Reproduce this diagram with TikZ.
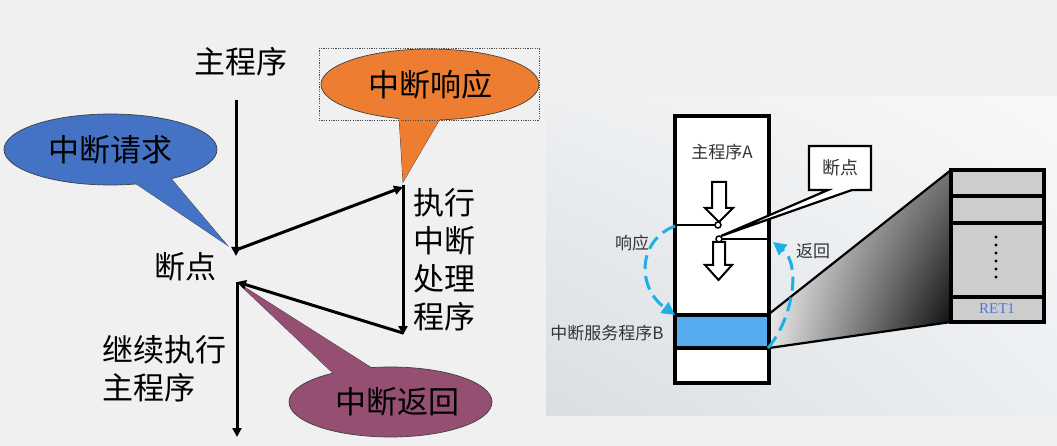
\documentclass[tikz,border=0pt]{standalone}
\usepackage{fontspec}
\setmainfont{Noto Sans CJK SC}
\newfontfamily\serifen{Liberation Serif}
\usetikzlibrary{arrows.meta,shapes.geometric,shadings}
\definecolor{bg}{HTML}{F0F0F0}
\definecolor{reqcol}{HTML}{4472C4}
\definecolor{rspcol}{HTML}{ED7D31}
\definecolor{rtncol}{HTML}{954F72}
\definecolor{arccol}{HTML}{1CB0E6}
\definecolor{isrcol}{HTML}{56AAEE}
\definecolor{stackcol}{HTML}{CDCDCD}
\definecolor{retcol}{HTML}{5076D8}
\definecolor{pnlA}{HTML}{EDEFF1}
\definecolor{pnlB}{HTML}{F7F8F9}
\definecolor{pnlC}{HTML}{DADEE2}
\definecolor{pnlD}{HTML}{ECEFF2}
\begin{document}
\begin{tikzpicture}[x=1pt,y=-1pt,
  big/.style={font=\fontsize{31}{38}\selectfont, inner sep=0pt},
  small/.style={font=\fontsize{17}{20}\selectfont, inner sep=0pt, text=black!80},
  bubble/.style={ellipse, draw=black!75, line width=0.7pt, inner sep=0pt, font=\fontsize{31}{38}\selectfont},
  ptr/.style={draw=black!75, line width=0.7pt, line join=miter},
  flow/.style={line width=3pt, -{Triangle[length=9pt,width=9pt]}},
  dasharc/.style={draw=arccol, line width=3pt, dash pattern=on 14pt off 7pt, -{Triangle[length=13pt,width=13pt]}},
  thick3/.style={line width=3.2pt}
]
\fill[bg] (0,0) rectangle (1057,446);
\useasboundingbox (0,0) rectangle (1057,446);

% ---------------- left panel: callouts ----------------
% 中断请求
\fill[reqcol, ptr] (132,181) -- (227,245) -- (168,175) -- cycle;
\node[bubble, fill=reqcol, minimum width=213pt, minimum height=71pt] (req) at (110.5,149.5) {中断请求};
\fill[reqcol] (132,181) -- (227,245) -- (168,175) -- cycle;

% 中断响应
\fill[rspcol, ptr] (399,116) -- (403,182) -- (441,117) -- cycle;
\node[bubble, fill=rspcol, minimum width=218pt, minimum height=71pt] (rsp) at (430,84.5) {中断响应};
\fill[rspcol] (399,116) -- (403,182) -- (441,117) -- cycle;
\draw[black!70, line width=0.6pt, dash pattern=on 1.2pt off 1.2pt] (319,48) rectangle (539,120);

% 中断返回
\fill[rtncol, ptr] (335,375) -- (238,283) -- (375,370) -- cycle;
\node[bubble, fill=rtncol, minimum width=203pt, minimum height=70pt] (rtn) at (390.5,402) {};
\fill[rtncol] (335,375) -- (238,283) -- (375,370) -- cycle;
\node[big] (rtnt) at (397,402) {中断返回};

% ---------------- left panel: flow ----------------
\coordinate (top) at (236,100);
\coordinate (bpa) at (236,256);
\coordinate (bpas) at (236,250);
\coordinate (isra) at (403,187);
\coordinate (isras) at (403,185);
\coordinate (isrb) at (403,335);
\coordinate (isrbs) at (403,333);
\coordinate (bpb) at (237,282);
\coordinate (bot) at (237,437);
\draw[flow] (top) -- (bpa);
\draw[flow] (bpas) -- (isra);
\draw[flow] (isras) -- (isrb);
\draw[flow] (isrbs) -- (bpb);
\draw[flow] (bpb) -- (bot);

\node[big] (main) at (241,62) {主程序};
\node[big] (bpt) at (185,267) {断点};
\node[big, align=center] (exec) at (444,260) {执行\\中断\\处理\\程序};
\node[big, align=left, anchor=west] (cont) at (102,369) {继续执行\\主程序};

% ---------------- right panel ----------------
\shade[upper left=pnlA, upper right=pnlB, lower left=pnlC, lower right=pnlD] (546,97) rectangle (1057,415);

% gradient wedge
\shade[upper left=white, lower left=white!90!black, upper right=black!55, lower right=black]
  (769,314) -- (951,170) -- (951,322) -- (769,348) -- cycle;
\draw[line width=2.2pt] (769,314) -- (951,170);
\draw[line width=2.2pt] (769,348) -- (951,322);

% main program box
\filldraw[fill=white, thick3] (675,116) rectangle (769,383);
\filldraw[fill=isrcol, thick3] (675,315) rectangle (769,348);
\draw[line width=2.5pt] (675,225) -- (715,225);
\draw[line width=2.5pt] (722,239) -- (769,239);

% breakpoint callout
\draw[line width=2.2pt, fill=white, line join=miter] (809,146) -- (871,146) -- (871,190) -- (852,190) -- (721,236) -- (828,190) -- (809,190) -- cycle;
\node[small, font=\fontsize{18}{20}\selectfont] (bpr) at (840,168) {断点};

% hollow arrows
\draw[line width=2pt, fill=white, line join=miter] (712,182) -- (726,182) -- (726,208) -- (733,208) -- (719,222) -- (705,208) -- (712,208) -- cycle;
\draw[line width=2pt, fill=white, line join=miter] (713,242) -- (725,242) -- (725,265) -- (732,265) -- (718.5,280) -- (705,265) -- (713,265) -- cycle;
\draw[line width=1.5pt, fill=white] (718,225) circle[radius=3pt];
\draw[line width=1.5pt, fill=white] (719,239) circle[radius=3pt];

% labels
\node[small] (progA) at (722,152) {主程序A};
\node[small] (rspr) at (632,243) {响应};
\node[small] (rtnr) at (813,251) {返回};
\node[small] (isrr) at (607,333) {中断服务程序B};

% dashed arcs
\coordinate (la) at (675,226);
\coordinate (lb) at (675,315);
\coordinate (ra) at (768,348);
\coordinate (rb) at (773,242);
\draw[dasharc] (la) .. controls (638,240) and (636,287) .. (lb);
\draw[dasharc] (ra) .. controls (792,320) and (802,265) .. (rb);

% stack
\filldraw[fill=stackcol, thick3] (951,170) rectangle (1044,322);
\draw[thick3] (951,196) -- (1044,196);
\draw[thick3] (951,223) -- (1044,223);
\draw[thick3] (951,297) -- (1044,297);
\foreach \yy in {237,245,253,261,269,277} \fill (996,\yy) circle[radius=1.6pt];
\node[font=\serifen\fontsize{15}{15}\selectfont, text=retcol, inner sep=0pt] (ret) at (997,309) {RET1};
\end{tikzpicture}
\end{document}
